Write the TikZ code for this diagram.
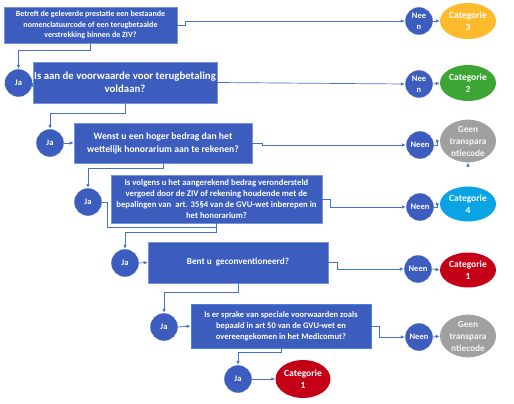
\documentclass[tikz,border=0pt]{standalone}
\usepackage{fontspec}
\setmainfont{Carlito}
\usetikzlibrary{arrows.meta,calc,shapes.geometric}
\definecolor{boxblue}{RGB}{60,92,190}
\definecolor{boxedge}{RGB}{120,150,215}
\definecolor{boxedgeb}{RGB}{70,130,225}
\definecolor{linec}{RGB}{68,114,196}
\definecolor{corange}{RGB}{252,186,44}
\definecolor{cgreen}{RGB}{60,165,52}
\definecolor{cgray}{RGB}{160,160,160}
\definecolor{ccyan}{RGB}{8,164,228}
\definecolor{cred}{RGB}{196,0,22}
\tikzset{
  qbox/.style={rectangle, fill=boxblue, draw=boxedge, line width=0.6pt, text=white, font=\bfseries, align=center, inner sep=1pt},
  circ/.style={circle, fill=boxblue, draw=white, line width=0.4pt, minimum size=28pt, inner sep=0pt, text=white, font=\bfseries\fontsize{8.5}{9}\selectfont, align=center},
  cat/.style={ellipse, minimum width=56pt, minimum height=36pt, inner sep=0pt, text=white, font=\bfseries\fontsize{9.5}{12}\selectfont, align=center},
  conn/.style={draw=linec, line width=0.7pt, -{Latex[length=4pt,width=3.5pt]}},
  plain/.style={draw=linec, line width=0.7pt},
}
\begin{document}
\begin{tikzpicture}[x=1pt,y=-1pt]
\useasboundingbox (0,0) rectangle (514,404);
% boxes
\node[qbox, minimum width=173pt, minimum height=36pt, font=\bfseries\fontsize{8}{10.5}\selectfont] (b1) at (90.5,25) {Betreft de geleverde prestatie een bestaande\\nomenclatuurcode of een terugbetaalde\\verstrekking binnen de ZIV?};
\node[qbox, minimum width=176pt, minimum height=41pt, font=\bfseries\fontsize{10.8}{13}\selectfont] (b2) at (125,82.5) {Is aan de voorwaarde voor terugbetaling\\voldaan?};
\node[qbox, minimum width=178pt, minimum height=40pt, font=\bfseries\fontsize{9.7}{13}\selectfont] (b3) at (163,143) {Wenst u een hoger bedrag dan het\\wettelijk honorarium aan te rekenen?};
\node[qbox, minimum width=211pt, minimum height=48pt, font=\bfseries\fontsize{8.7}{11}\selectfont] (b4) at (216.5,199) {Is volgens u het aangerekend bedrag verondersteld\\vergoed door de ZIV of rekening houdende met de\\bepalingen van\ \ art. 35§4 van de GVU-wet inberepen in\\het honorarium?};
\node[qbox, minimum width=180pt, minimum height=41pt, font=\bfseries\fontsize{9.2}{12}\selectfont] (b5) at (238,262.5) {Bent u\ \ geconventioneerd?};
\node[qbox, draw=boxedgeb, minimum width=180pt, minimum height=44pt, font=\bfseries\fontsize{8.5}{11}\selectfont] (b6) at (281,326) {Is er sprake van speciale voorwaarden zoals\\bepaald in art 50 van de GVU-wet en\\overeengekomen in het Medicomut?};
% Ja circles
\node[circ] (j1) at (18.5,83) {Ja};
\node[circ] (j3) at (50,143) {Ja};
\node[circ] (j4) at (88,202) {Ja};
\node[circ] (j5) at (125,263) {Ja};
\node[circ] (j6) at (164,327) {Ja};
\node[circ] (j7) at (238,379) {Ja};
% Neen circles
\node[circ, font=\bfseries\fontsize{8.5}{11}\selectfont] (n1) at (419,21) {Nee\\n};
\node[circ, font=\bfseries\fontsize{8.5}{11}\selectfont] (n2) at (419,84) {Nee\\n};
\node[circ] (n3) at (420,145) {Neen};
\node[circ] (n4) at (420,207) {Neen};
\node[circ] (n5) at (418,269) {Neen};
\node[circ] (n6) at (419,337) {Neen};
% categories
\node[cat, fill=corange] (c1) at (468,21) {Categorie\\3};
\node[cat, fill=cgreen] (c2) at (468,83) {Categorie\\2};
\node[cat, fill=cgray, minimum height=37pt, text=white!92!gray, font=\bfseries\fontsize{9.3}{12}\selectfont] (c3) at (468,141) {Geen\\transpara\\ntiecode};
\node[cat, fill=ccyan, minimum height=35pt] (c4) at (468,204) {Categorie\\4};
\node[cat, fill=cred, minimum height=35pt] (c5) at (468,270) {Categorie\\1};
\node[cat, fill=cgray, minimum height=38pt, text=white!92!gray, font=\bfseries\fontsize{9.3}{12}\selectfont] (c6) at (468,336) {Geen\\transpara\\ntiecode};
\node[cat, fill=cred, minimum width=55pt, minimum height=38pt] (c7) at (303,379) {Categorie\\1};
% connectors: right to Neen
\draw[conn] (b1.east) -- ++(8,0) |- (n1.west);
\draw[conn] (b2.east) -- (n2.west);
\draw[conn] (b3.east) -- ++(10,0) |- (n3.west);
\draw[conn] (b4.east) -- ++(8,0) |- (n4.west);
\draw[conn] (b5.east) -- ++(9,0) |- (n5.west);
\draw[conn] (b6.east) -- ++(8,0) |- (n6.west);
% down to Ja
\draw[conn] (b1.south) -- ++(0,7) -| (j1.north);
\draw[conn] (b2.south) -- ++(0,10) -| (j3.north);
\draw[conn] (b3.south) -- ++(0,5) -| (j4.north);
\draw[conn] (b4.south) -- ++(0,9) -| (j5.north);
\draw[conn] (b5.south) -- ++(0,9) -| (j6.north);
\draw[conn] (b6.south) -- ++(0,4) -| (j7.north);
% Ja to boxes
\draw[conn] (j1.east) -- (b2.west);
\draw[conn] (j3.east) -- (b3.west);
\draw[plain] (j4.east) -- ++(5,0) -- ++(0,25) -| (b4.south);
\draw[conn] (j5.east) -- (b5.west);
\draw[conn] (j6.east) -- (b6.west);
\draw[conn] (j7.east) -- (c7.west);
% Neen to categories
\draw[conn] (n1.east) -- (c1.west);
\draw[conn] (n2.east) -- (c2.west);
\draw[conn] (n3.east) -- ++(3,0) |- (c3.west);
\draw[conn] (n4.east) -- ++(3,0) |- (c4.west);
\draw[conn] (n5.east) -- (c5.west);
\draw[conn] (n6.east) -- (c6.west);
\coordinate (stub) at (468,166);
\draw[conn] (stub) -- (c3.south);
\end{tikzpicture}
\end{document}
